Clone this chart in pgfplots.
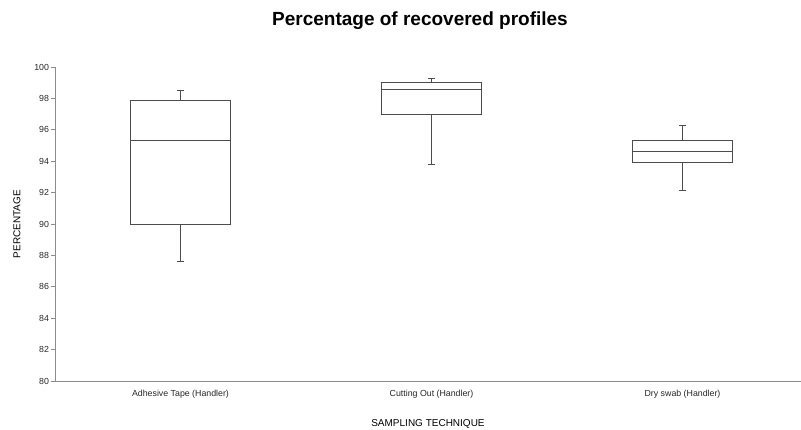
\documentclass[border=0pt]{standalone}
\usepackage{fontspec}
\setmainfont{Liberation Sans}
\usepackage{pgfplots}
\pgfplotsset{compat=1.18}
\usepgfplotslibrary{statistics}
\definecolor{axgray}{gray}{0.55}
\definecolor{boxgray}{gray}{0.3}
\begin{document}
\begin{tikzpicture}
\begin{axis}[
  anchor=south west,
  scale only axis, width=746pt, height=314pt,
  xmin=-0.5, xmax=2.472, ymin=80, ymax=100,
  axis x line*=bottom, axis y line*=left,
  axis line style={axgray, line width=0.9pt},
  ytick={80,82,...,100},
  xtick={0,1,2},
  xticklabels={Adhesive Tape (Handler),Cutting Out (Handler),Dry swab (Handler)},
  x tick style={draw=none},
  extra x ticks={0.5,1.5}, extra x tick labels={},
  extra x tick style={tick style={draw=axgray, line width=0.7pt}, major tick length=3pt},
  y tick style={draw=axgray, line width=0.7pt},
  major tick length=3.5pt, tick align=outside,
  /pgf/number format/assume math mode=true,
  tick label style={font=\fontsize{8.8}{10}\selectfont, text=black!85},
  yticklabel style={xshift=1pt},
  xticklabel style={yshift=-2pt},
  xlabel={SAMPLING TECHNIQUE},
  xlabel style={at={([yshift=-43pt]axis description cs:0.5,0)}, anchor=center, font=\fontsize{10}{12}\selectfont},
  ylabel={PERCENTAGE},
  ylabel style={at={([xshift=-38pt]axis description cs:0,0.5)}, anchor=center, rotate=0, font=\fontsize{10}{12}\selectfont},
  title={\textbf{Percentage of recovered profiles}},
  title style={at={([xshift=-8pt,yshift=40pt]axis description cs:0.5,1)}, anchor=center, font=\fontsize{19}{22}\selectfont},
  boxplot/draw direction=y,
  boxplot/box extend=0.4,
  boxplot/whisker extend=0.025,
  clip=false,
]
\addplot[boxgray, line width=0.8pt, boxplot prepared={draw position=0,
  lower whisker=87.6, lower quartile=90.0, median=95.35, upper quartile=97.9, upper whisker=98.5}]
  coordinates {};
\addplot[boxgray, line width=0.8pt, boxplot prepared={draw position=1,
  lower whisker=93.8, lower quartile=96.95, median=98.55, upper quartile=99.0, upper whisker=99.3}]
  coordinates {};
\addplot[boxgray, line width=0.8pt, boxplot prepared={draw position=2,
  lower whisker=92.15, lower quartile=93.95, median=94.6, upper quartile=95.35, upper whisker=96.25}]
  coordinates {};
\end{axis}
\pgfresetboundingbox
\useasboundingbox (-55pt,-48pt) rectangle (746pt,381pt);
\end{tikzpicture}
\end{document}
